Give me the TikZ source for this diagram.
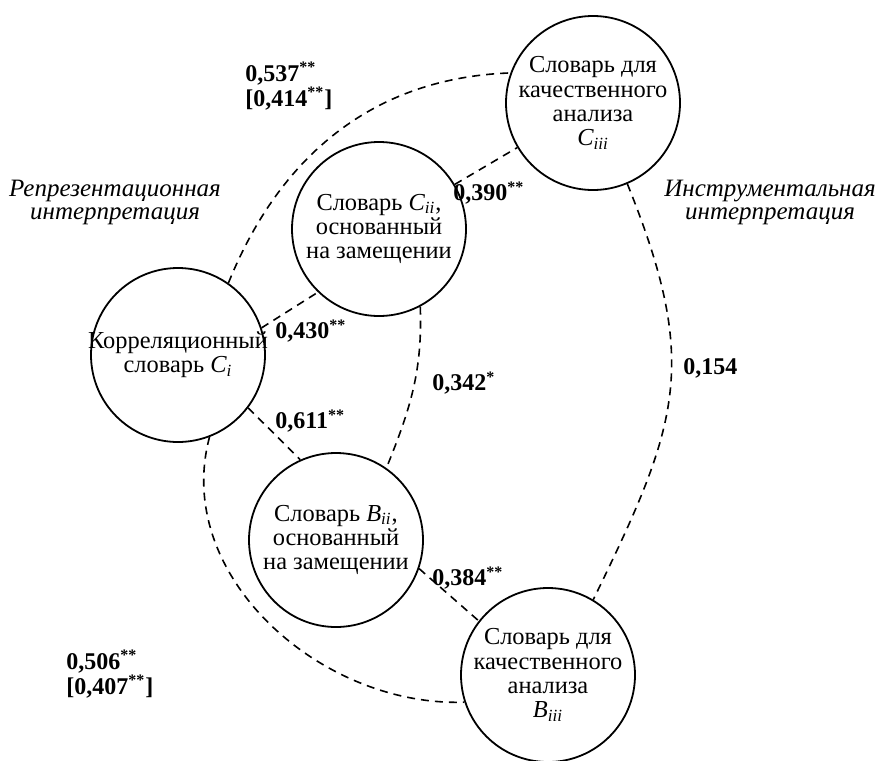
\documentclass[tikz,border=0pt]{standalone}
\usepackage{fontspec}
\setmainfont{Liberation Serif}
\usetikzlibrary{positioning}
\newcommand{\koefshrift}{\bfseries\fontsize{12}{12.5}\selectfont}
\tikzset{
    slovar/.style={circle, draw, line width=0.9pt, minimum size=87pt, inner sep=0pt},
    slovartext/.style={align=center, inner sep=0pt, font=\fontsize{12.2}{12.2}\selectfont},
    svyaz/.style={dash pattern=on 4pt off 3pt, line width=0.8pt},
    koef/.style={anchor=west, align=left, inner sep=0pt, font=\koefshrift},
    interp/.style={align=center, inner sep=0pt, font=\itshape\fontsize{12.5}{11.5}\selectfont},
}
\begin{document}
\begin{tikzpicture}[x=0.5pt, y=-0.5pt]

            \useasboundingbox (0,0) rectangle (882,760);

            \node[slovar] (Ci) at (178,355) {};
            \node[slovar] (Cii) at (379,229) {};
            \node[slovar] (Ciii) at (593,103) {};
            \node[slovar] (Bii) at (336,540) {};
            \node[slovar] (Biii) at (548,675) {};

            \node[slovartext] (Ci-t) at (Ci) {Корреляционный\\словарь \textit{C\textsubscript{i}}};
            \node[slovartext] (Cii-t) at (Cii) {Словарь \textit{C\textsubscript{ii}},\\основанный\\на замещении};
            \node[slovartext] (Ciii-t) at (Ciii) {Словарь для\\качественного\\анализа\\\textit{C\textsubscript{iii}}};
            \node[slovartext] (Bii-t) at (Bii) {Словарь \textit{B\textsubscript{ii}},\\основанный\\на замещении};
            \node[slovartext] (Biii-t) at (Biii) {Словарь для\\качественного\\анализа\\\textit{B\textsubscript{iii}}};

            \begin{scope}[svyaz]
                \draw (Ci.55) to[out=68, in=182] (Ciii.160);
                \draw (Cii) -- (Ciii);
                \draw (Ci.18) -- (Cii.226);
                \draw (Cii.-62) to[out=-88, in=68] (Bii.55);
                \draw (Ci.-37) -- (Bii.114);
                \draw (Bii.-19) -- (Biii.142);
                \draw (Ciii.-67) to[out=-68, in=64, looseness=1.2] (Biii.59);
                \draw (Ci.-69) to[out=-105, in=182] (Biii.198);
            \end{scope}

            \node[koef] (k537) at (245,86) {0,537\textsuperscript{**}\\{[}0,414\textsuperscript{**}]};
            \node[koef] (k390) at (453,193) {0,390\textsuperscript{**}};
            \node[koef] (k430) at (275,331) {0,430\textsuperscript{**}};
            \node[koef] (k342) at (432,383) {0,342\textsuperscript{*}};
            \node[koef, fill=white] (k611) at (275,421) {0,611\textsuperscript{**}};
            \node[koef] (k154) at (683,368) {0,154};
            \node[koef] (k384) at (432,578) {0,384\textsuperscript{**}};
            \node[koef] (k506) at (66,674) {0,506\textsuperscript{**}\\{[}0,407\textsuperscript{**}]};

            \node[interp] (repr) at (115,202) {Репрезентационная\\интерпретация};
            \node[interp] (instr) at (770,202) {Инструментальная\\интерпретация};
        \end{tikzpicture}
\end{document}
